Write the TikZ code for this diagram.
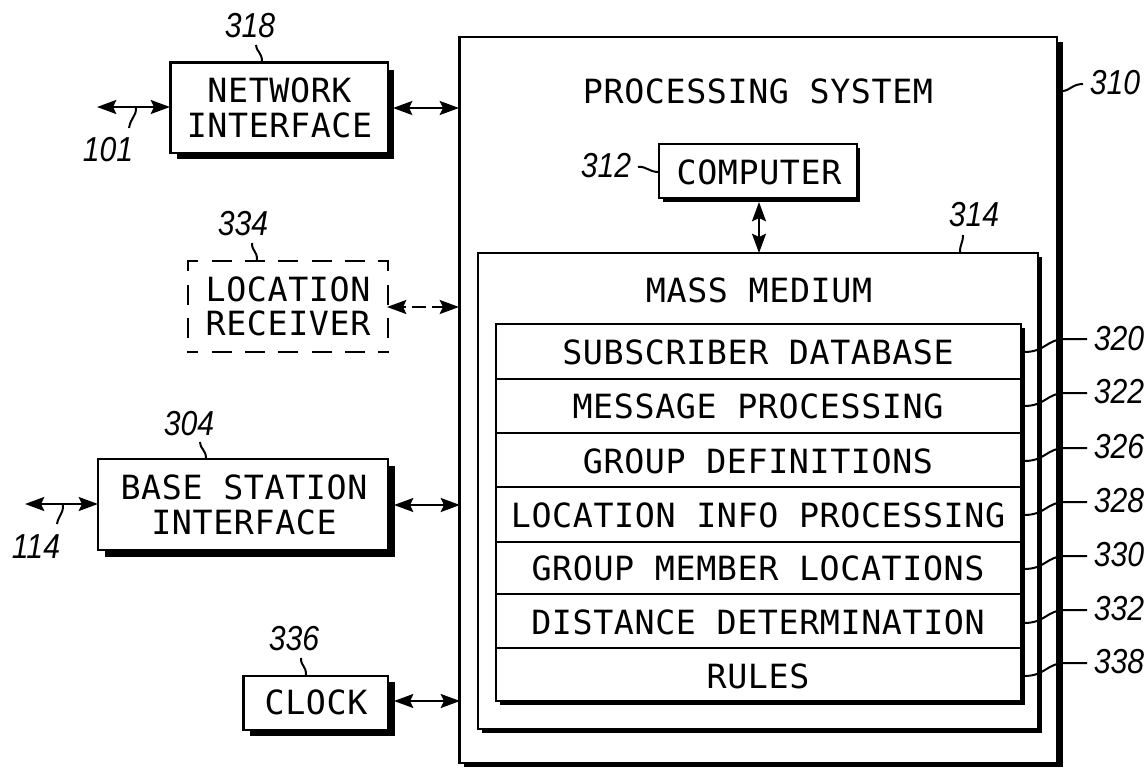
\documentclass[tikz,border=0pt]{standalone}
\usepackage{fontspec}
\setmainfont{DejaVu Sans Mono}[LetterSpace=1.8]
\newfontfamily\numfont{Liberation Sans Italic}[FakeStretch=0.87]
\usetikzlibrary{arrows.meta}
\tikzset{
 x=0.75pt,y=-0.75pt,
 blk/.style={draw=black,line width=2.1pt,fill=white},
 shd/.style={fill=black,draw=none},
 lbl/.style={inner sep=0pt,font=\fontsize{25}{26}\selectfont,align=center,text=black},
 num/.style={inner sep=0pt,font=\numfont\fontsize{26}{28}\selectfont,text=black},
 lead/.style={line width=1.5pt,draw=black},
 conn/.style={line width=1.8pt,{Stealth[length=14.5pt,width=10.5pt,inset=2.5pt]}-{Stealth[length=14.5pt,width=10.5pt,inset=2.5pt]}},
 dashside/.style={line width=2.1pt,dash pattern=on 15pt off 10pt,dash phase=6.5pt},
}
\begin{document}
\begin{tikzpicture}
\useasboundingbox (0,0) rectangle (1145,767);
% processing system
\fill[shd] (464,42) rectangle (1063,767);
\draw[blk] (459.5,37) rectangle (1057,763);
\node[lbl] (ps) at (758,91) {PROCESSING SYSTEM};
% computer
\fill[shd] (663,148) rectangle (860,202);
\draw[blk] (659,144) rectangle (857,198);
\node[lbl] (comp) at (759,172) {COMPUTER};
% mass medium
\fill[shd] (482,257) rectangle (1042,733);
\draw[blk] (478,253) rectangle (1038,729);
\node[lbl] (mm) at (759,290) {MASS MEDIUM};
\fill[shd] (500,328) rectangle (1024.5,704.5);
\draw[blk] (496,324) rectangle (1021,701);
\foreach \y in {379,433,487,542,594,648} \draw[line width=1.8pt] (496,\y) -- (1021,\y);
\node[lbl] (a) at (758,352) {SUBSCRIBER DATABASE};
\node[lbl] (b) at (758,406) {MESSAGE PROCESSING};
\node[lbl] (c) at (758,461) {GROUP DEFINITIONS};
\node[lbl] (d) at (758,515) {LOCATION INFO PROCESSING};
\node[lbl] (e) at (758,568) {GROUP MEMBER LOCATIONS};
\node[lbl] (f) at (758,622) {DISTANCE DETERMINATION};
\node[lbl] (g) at (758,676) {RULES};
% left blocks
\fill[shd] (177,70) rectangle (394,159);
\draw[blk] (170.5,62.5) rectangle (388,153);
\node[lbl] (net) at (279.5,108) {NETWORK\\INTERFACE};
\draw[dashside] (187,261) -- (389,261);
\draw[dashside] (187,352) -- (389,352);
\draw[dashside] (188,260) -- (188,353);
\draw[dashside] (388,260) -- (388,353);
\node[lbl] (loc) at (288,306.5) {LOCATION\\RECEIVER};
\fill[shd] (105,466) rectangle (395,557);
\draw[blk] (98,459) rectangle (388,550);
\node[lbl] (bs) at (244,505) {BASE STATION\\INTERFACE};
\fill[shd] (250,682) rectangle (395,736);
\draw[blk] (243.5,676) rectangle (388,730);
\node[lbl] (clk) at (316,702) {CLOCK};
% connectors
\coordinate (n1) at (97,107); \coordinate (n2) at (170,107);
\draw[conn] (n1) -- (n2);
\coordinate (n3) at (393,108); \coordinate (n4) at (459,108);
\draw[conn] (n3) -- (n4);
\coordinate (l1) at (387,307); \coordinate (l2) at (459,307);
\draw[conn,dash pattern=on 3pt off 4.5pt on 10.5pt off 4.5pt on 12pt] (l1) -- (l2);
\coordinate (b1) at (25,504); \coordinate (b2) at (98,504);
\draw[conn] (b1) -- (b2);
\coordinate (b3) at (394,505); \coordinate (b4) at (460,505);
\draw[conn] (b3) -- (b4);
\coordinate (c1) at (394,701); \coordinate (c2) at (460,701);
\draw[conn] (c1) -- (c2);
\coordinate (m1) at (759,202); \coordinate (m2) at (759,253);
\draw[conn] (m1) -- (m2);
% numbers
\node[num] (n318) at (250,26) {318};
\node[num] (n101) at (108,150) {101};
\node[num] (n334) at (243,224) {334};
\node[num] (n304) at (189,424) {304};
\node[num] (n114) at (36,547) {114};
\node[num] (n336) at (294,639) {336};
\node[num] (n312) at (606,166) {312};
\node[num] (n314) at (974,215) {314};
\node[num] (n310) at (1115,83) {310};
\node[num] (n320) at (1119,339) {320};
\node[num] (n322) at (1119,392) {322};
\node[num] (n326) at (1119,447) {326};
\node[num] (n328) at (1119,501) {328};
\node[num] (n330) at (1119,555) {330};
\node[num] (n332) at (1119,609) {332};
\node[num] (n338) at (1119,662) {338};
% leads
\draw[lead] (256,45) .. controls (257,53) and (262,52) .. (262,62);
\draw[lead] (129,128) .. controls (131,117) and (136,117) .. (136,108);
\draw[lead] (252,243) .. controls (252,252) and (257,250) .. (257,260);
\draw[lead] (200,442) .. controls (201,451) and (206,449) .. (206,459);
\draw[lead] (57,524) .. controls (59,514) and (63,515) .. (63,505);
\draw[lead] (301,658) .. controls (301,667) and (306,665) .. (306,675);
\draw[lead] (1062,91) .. controls (1070,91) and (1072,84) .. (1083,84);
\draw[lead] (638,167) .. controls (647,166) and (648,172) .. (659,172);
\draw[lead] (963,235) .. controls (963,243) and (960,244) .. (960,252);
\foreach \y in {339,393,448,502,556,610,663}
  \draw[lead] (1024,\y+13) .. controls (1046,\y+13) and (1046,\y) .. (1066,\y) -- (1087,\y);
\end{tikzpicture}
\end{document}
